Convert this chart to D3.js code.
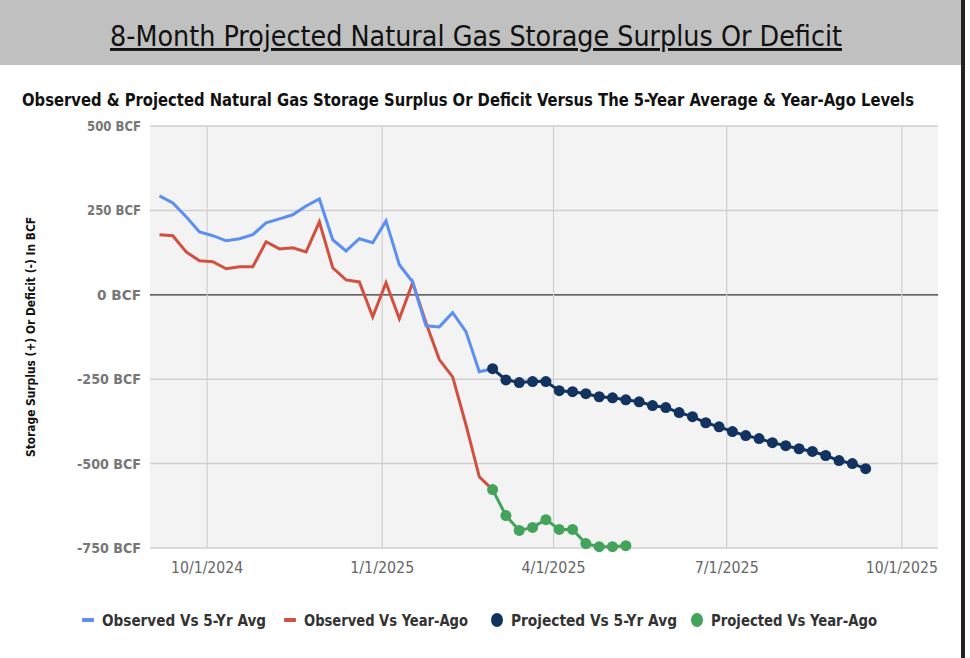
<!DOCTYPE html>
<html><head><meta charset="utf-8">
<script src="https://cdn.jsdelivr.net/npm/d3@7"></script>
<style>
body{margin:0;background:#fff}
svg text{font-family:"DejaVu Sans Condensed","DejaVu Sans",sans-serif;font-stretch:condensed}
</style></head><body>
<svg id="c" width="970" height="658"></svg>
<script>
// weekly dates, first observed week 9/6/2024
var obs5yr = [293,272,231,186,175,160,166,178,213,225,237,263,284,163,130,166,154,219,89,38,-92,-95,-53,-109,-228,-219];
var obsYago = [178,175,127,101,98,77,83,83,157,136,139,127,216,80,44,38,-65,36,-71,36,-83,-192,-243,-385,-539,-577];
var proj5yr = [-219,-252,-260,-257,-257,-284,-287,-293,-302,-305,-311,-317,-328,-334,-349,-361,-379,-391,-405,-417,-426,-438,-447,-456,-464,-476,-491,-500,-515];
var projYago = [-577,-654,-698,-689,-666,-695,-695,-737,-746,-746,-743];
var yTicks = [500,250,0,-250,-500,-750];
var xTicks = ['10/1/2024','1/1/2025','4/1/2025','7/1/2025','10/1/2025'];
var legendItems = [
  {label:'Observed Vs 5-Yr Avg', color:'#5b8ff0', type:'line'},
  {label:'Observed Vs Year-Ago', color:'#d1503f', type:'line'},
  {label:'Projected Vs 5-Yr Avg', color:'#12325f', type:'dot'},
  {label:'Projected Vs Year-Ago', color:'#43a35a', type:'dot'}
];

var parse = d3.timeParse('%m/%d/%Y');
var start = parse('09/06/2024');
var projStart = d3.timeDay.offset(start, 7*25);
function week(base){ return function(v,i){ return {d:d3.timeDay.offset(base, 7*i), v:v}; }; }

var svg = d3.select('#c');

// header
svg.append('rect').attr('x',0).attr('y',0).attr('width',962).attr('height',65).attr('fill','#c0c0c0');
svg.append('rect').attr('x',961).attr('y',0).attr('width',4).attr('height',658).attr('fill','#222');
svg.append('text').attr('x',110).attr('y',46)
  .attr('font-size',29).attr('fill','#111').attr('text-decoration','underline')
  .attr('textLength',732).attr('lengthAdjust','spacingAndGlyphs')
  .text('8-Month Projected Natural Gas Storage Surplus Or Deficit');
svg.append('text').attr('x',22).attr('y',106).attr('font-size',17).attr('font-weight','bold').attr('fill','#111')
  .attr('textLength',892).attr('lengthAdjust','spacingAndGlyphs')
  .text('Observed & Projected Natural Gas Storage Surplus Or Deficit Versus The 5-Year Average & Year-Ago Levels');

var pl = 150, pr = 938, pt = 126, pb = 548;
var x = d3.scaleTime().domain([parse('09/01/2024'), parse('10/20/2025')]).range([pl, pr]);
var y = d3.scaleLinear().domain([-750, 500]).range([pb, pt]);

svg.append('rect').attr('x',pl).attr('y',pt).attr('width',pr-pl).attr('height',pb-pt).attr('fill','#f3f3f3');

svg.append('g').selectAll('line').data(yTicks).join('line')
  .attr('x1',pl).attr('x2',pr).attr('y1',d=>y(d)).attr('y2',d=>y(d))
  .attr('stroke',d=>d===0?'#333':'#cfcfcf').attr('stroke-width',d=>d===0?1.2:1.5);
svg.append('g').selectAll('line').data(xTicks).join('line')
  .attr('x1',d=>x(parse(d))).attr('x2',d=>x(parse(d))).attr('y1',pt).attr('y2',pb)
  .attr('stroke','#cfcfcf').attr('stroke-width',1.2);

svg.append('g').selectAll('text').data(yTicks).join('text')
  .attr('x',141).attr('y',d=>y(d)+5).attr('text-anchor','end')
  .attr('font-size',14).attr('font-weight','bold').attr('fill','#777')
  .attr('textLength',d=>d<0?64:(d===0?44:54)).attr('lengthAdjust','spacingAndGlyphs')
  .text(d=>d+' BCF');
svg.append('g').selectAll('text').data(xTicks).join('text')
  .attr('x',d=>x(parse(d))).attr('y',573).attr('text-anchor','middle')
  .attr('font-size',16).attr('fill','#666')
  .attr('textLength',d=>d.length*8).attr('lengthAdjust','spacingAndGlyphs')
  .text(d=>d);

svg.append('text').attr('transform','translate(35,337) rotate(-90)').attr('text-anchor','middle')
  .attr('font-size',12).attr('font-weight','bold').attr('fill','#111')
  .attr('textLength',240).attr('lengthAdjust','spacingAndGlyphs')
  .text('Storage Surplus (+) Or Deficit (-) In BCF');

var line = d3.line().x(d=>x(d.d)).y(d=>y(d.v));
var g = svg.append('g');
g.append('path').datum(obsYago.map(week(start))).attr('d',line).attr('fill','none').attr('stroke','#d1503f').attr('stroke-width',3);
g.append('path').datum(obs5yr.map(week(start))).attr('d',line).attr('fill','none').attr('stroke','#5b8ff0').attr('stroke-width',3);

[[proj5yr,'#12325f'],[projYago,'#43a35a']].forEach(function(s){
  var pts = s[0].map(week(projStart));
  g.append('path').datum(pts).attr('d',line).attr('fill','none').attr('stroke',s[1]).attr('stroke-width',3);
  g.selectAll(null).data(pts).join('circle').attr('cx',d=>x(d.d)).attr('cy',d=>y(d.v)).attr('r',5.5).attr('fill',s[1]);
});

// legend
var lx = [82, 284, 491, 691];
var lg = svg.append('g').selectAll('g').data(legendItems).join('g').attr('transform',(d,i)=>'translate('+lx[i]+',620)');
lg.filter(d=>d.type==='line').append('rect').attr('x',0).attr('y',-2).attr('width',12).attr('height',4).attr('rx',1).attr('fill',d=>d.color);
lg.filter(d=>d.type==='dot').append('ellipse').attr('cx',6).attr('cy',0).attr('rx',6).attr('ry',7).attr('fill',d=>d.color);
lg.append('text').attr('x',20).attr('y',6).attr('font-size',16).attr('font-weight','bold').attr('fill','#333')
  .attr('textLength',d=>d.type==='dot'?166:164).attr('lengthAdjust','spacingAndGlyphs')
  .text(d=>d.label);
</script>
</body></html>
